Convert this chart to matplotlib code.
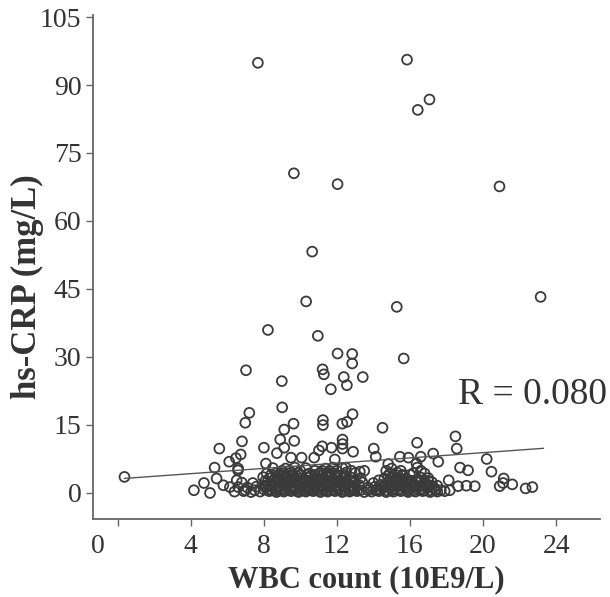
import numpy as np
import matplotlib
matplotlib.use('Agg')
import matplotlib.pyplot as plt
from matplotlib import transforms

plt.rcParams['font.family'] = ['Liberation Serif', 'DejaVu Serif']

# ---- data ----
# sparse / elevated points
sparse_x = [7.68, 15.84, 17.07, 16.43, 9.65, 12.04, 20.9, 10.65, 23.15, 10.32,
            15.28, 8.23, 10.96, 15.66, 12.04, 12.84, 12.84, 7.03, 8.99, 11.22,
            11.29, 12.38, 13.42, 12.55, 11.67,
            7.21, 6.99, 9.01, 12.86, 12.56, 12.3, 14.5, 9.63, 9.12, 11.24, 11.24,
            6.81, 8.9, 9.67, 12.31, 12.31, 12.31, 16.39, 18.49, 18.56, 5.57, 8.01,
            9.12, 11.2, 11.71, 11.02, 14.02, 12.89, 8.72, 6.74, 6.48, 17.27, 20.2,
            6.11, 8.12, 10.76, 10.07, 9.49, 11.89, 14.13, 15.45, 15.92, 16.36,
            14.81, 17.55, 16.59, 0.38]
sparse_y = [94.9, 95.6, 86.8, 84.5, 70.5, 68.1, 67.6, 53.2, 43.2, 42.2,
            41.0, 35.9, 34.6, 29.6, 30.7, 30.6, 28.5, 27.0, 24.6, 27.2,
            26.1, 25.5, 25.5, 23.7, 22.8,
            17.6, 15.4, 18.8, 17.3, 15.6, 15.2, 14.3, 15.2, 13.9, 16.0, 14.9,
            11.3, 11.7, 11.4, 11.7, 10.7, 9.7, 11.0, 12.4, 9.7, 9.7, 9.9,
            9.9, 10.2, 9.9, 9.3, 9.7, 9.0, 8.7, 8.4, 7.6, 8.6, 7.4,
            6.8, 6.4, 7.7, 7.7, 7.7, 7.3, 7.9, 7.9, 7.7, 6.4,
            6.3, 6.8, 7.9, 3.45]

# low points at the edges of the main cluster
edge_x = [5.31, 6.59, 5.42, 4.73, 4.18, 5.06, 5.79, 6.15, 6.52, 6.6, 20.46,
          18.74, 19.18, 18.12, 18.63, 19.09, 19.55, 18.18, 17.69, 21.13, 21.1,
          20.91, 21.6, 22.33, 22.7, 13.26, 12.49, 7.97, 8.16]
edge_y = [5.5, 4.9, 3.1, 2.1, 0.5, -0.1, 1.6, 1.2, 2.7, 5.3, 4.6,
          5.5, 4.9, 2.7, 1.4, 1.5, 1.4, 0.5, 0.5, 3.1, 2.1,
          1.4, 1.8, 0.9, 1.2, 4.6, 5.5, 3.4, 4.2]

# dense cluster near the bottom
cluster_x = [6.4, 6.9, 7.3, 7.8, 8.3, 8.7, 9.1, 9.5, 9.9, 10.3, 10.7, 11.1, 11.5,
             11.9, 12.3, 12.7, 13.1, 13.5, 13.9, 14.3, 14.7, 15.1, 15.5, 15.9,
             16.3, 16.7, 17.1, 17.5, 17.9,
             6.6, 7.1, 7.6, 8.1, 8.5, 8.9, 9.3, 9.7, 10.1, 10.5, 10.9, 11.3, 11.7,
             12.1, 12.5, 12.9, 13.7, 14.1, 14.5, 14.9, 15.3, 15.7, 16.1, 16.5,
             16.9, 17.3,
             6.8, 7.4, 8.2, 8.6, 9.0, 9.4, 9.8, 10.2, 10.6, 11.0, 11.4, 11.8, 12.2,
             12.6, 13.0, 13.4, 14.0, 14.8, 15.2, 15.6, 16.0, 16.4, 16.8, 17.2,
             8.4, 8.8, 9.2, 9.6, 10.0, 10.4, 10.8, 11.2, 11.6, 12.0, 12.4, 12.8,
             13.3, 14.6, 15.0, 15.4, 15.8, 16.6, 17.0,
             8.7, 9.1, 9.5, 9.9, 10.5, 11.1, 11.5, 11.9, 12.5, 13.0, 14.9, 15.3,
             16.2, 16.8,
             8.5, 9.2, 9.7, 10.3, 11.4, 11.8, 12.3, 15.0, 16.4,
             8.0, 8.9, 9.7, 10.5, 11.3, 12.1, 12.9, 14.2, 15.0, 15.8, 16.6, 17.4,
             8.3, 9.1, 9.9, 10.7, 11.5, 12.3, 13.2, 14.4, 15.4, 16.2, 17.0,
             8.7, 9.5, 10.3, 11.1, 11.9, 12.7, 14.3, 15.5, 16.3,
             9.0, 9.8, 10.6, 11.4, 12.2, 14.8, 15.6]
cluster_y = [0.2, 0.3, 0.1, 0.2, 0.3, 0.1, 0.2, 0.3, 0.1, 0.2, 0.3, 0.1, 0.2,
             0.3, 0.1, 0.2, 0.3, 0.1, 0.2, 0.3, 0.1, 0.2, 0.3, 0.1,
             0.2, 0.3, 0.1, 0.2, 0.3,
             1.2, 1.1, 1.3, 1.2, 1.1, 1.3, 1.2, 1.1, 1.3, 1.2, 1.1, 1.3, 1.2,
             1.1, 1.3, 1.2, 1.1, 1.3, 1.2, 1.1, 1.3, 1.2, 1.1, 1.3,
             1.2, 1.1,
             2.2, 2.1, 2.3, 2.2, 2.1, 2.3, 2.2, 2.1, 2.3, 2.2, 2.1, 2.3, 2.2,
             2.1, 2.3, 2.2, 2.1, 2.3, 2.2, 2.1, 2.3, 2.2, 2.1, 2.3,
             3.2, 3.1, 3.3, 3.2, 3.1, 3.3, 3.2, 3.1, 3.3, 3.2, 3.1, 3.3,
             3.2, 3.1, 3.3, 3.2, 3.1, 3.3, 3.2,
             4.3, 4.2, 4.4, 4.3, 4.2, 4.4, 4.3, 4.2, 4.4, 4.3, 4.2, 4.4,
             4.3, 4.2,
             5.4, 5.3, 5.5, 5.4, 5.3, 5.5, 5.4, 5.3, 5.5,
             0.7, 0.7, 0.7, 0.7, 0.7, 0.7, 0.7, 0.7, 0.7, 0.7, 0.7, 0.7,
             1.7, 1.7, 1.7, 1.7, 1.7, 1.7, 1.7, 1.7, 1.7, 1.7, 1.7,
             2.7, 2.7, 2.7, 2.7, 2.7, 2.7, 2.7, 2.7, 2.7,
             3.7, 3.7, 3.7, 3.7, 3.7, 3.7, 3.7]

# extra overlapping points that make the band look solid
band_x = [7.0, 7.5, 8.2, 8.45, 8.7, 8.95, 9.2, 9.45, 9.7, 9.95, 10.2, 10.45,
          10.7, 10.95, 11.2, 11.45, 11.7, 11.95, 12.2, 12.45, 12.7, 12.95, 13.3,
          13.7, 14.1, 14.4, 14.7, 15.0, 15.3, 15.6, 15.9, 16.2, 16.5, 16.8, 17.1,
          17.4,
          8.0, 8.4, 8.8, 9.2, 9.6, 10.0, 10.4, 10.8, 11.2, 11.6, 12.0, 12.4, 12.8,
          14.6, 15.0, 15.4, 15.8, 16.2, 16.6, 17.0, 17.5,
          8.1, 8.5, 8.9, 9.3, 9.7, 10.1, 10.5, 10.9, 11.3, 11.7, 12.1, 12.5, 12.9,
          14.9, 15.3, 15.7, 16.1, 16.5, 17.0,
          8.4, 8.8, 9.2, 9.6, 10.0, 10.4, 10.8, 11.2, 11.6, 12.0, 12.4, 15.2,
          15.6, 16.0,
          9.0, 9.4, 10.0, 10.8, 11.2, 11.6, 12.0, 12.8, 13.5, 14.7, 15.5, 16.6]
band_y = [0.5] * 36 + [1.5] * 21 + [2.6] * 19 + [3.9] * 14 + [4.8] * 12

fit_intercept = 3.0
fit_slope = 0.29
r_text = 'R = 0.080'

x_ticks = [0, 4, 8, 12, 16, 20, 24]
y_ticks = [0, 15, 30, 45, 60, 75, 90, 105]

# ---- figure ----
ink = '#333333'
fig = plt.figure(figsize=(6.10, 5.97), dpi=100)
ax = fig.add_axes([92.5 / 610, 1 - 518.5 / 597, 507.5 / 610, 503.5 / 597])

all_x = np.array(sparse_x + edge_x + cluster_x + band_x)
all_y = np.array(sparse_y + edge_y + cluster_y + band_y)

ax.scatter(all_x, all_y, s=50, facecolors='none', edgecolors='#3a3a3a',
           linewidths=1.3, zorder=3)

lx = np.array([all_x.min(), all_x.max() + 0.15])
ax.plot(lx, fit_intercept + fit_slope * lx, color='#555555', lw=1.0, zorder=4)

ax.set_xlim(-1.37, 26.4)
ax.set_ylim(-5.74, 105.46)
ax.set_xticks(x_ticks)
ax.set_xticklabels([str(v) for v in x_ticks])
ax.set_yticks(y_ticks)
ax.set_yticklabels([str(v) for v in y_ticks])

for s in ['top', 'right']:
    ax.spines[s].set_visible(False)
for s in ['left', 'bottom']:
    ax.spines[s].set_color('#666666')
    ax.spines[s].set_linewidth(1.3)

ax.tick_params(axis='both', direction='out', length=5, width=1.0,
               color='#666666', labelsize=20, labelcolor=ink, pad=3)
ax.tick_params(axis='x', pad=6)

# the "0" label of the x axis sits left of its tick in the reference
tick0 = ax.xaxis.get_major_ticks()[0]
tick0.label1.set_transform(tick0.label1.get_transform() +
                           transforms.ScaledTranslation(-19.5 / 100, 0, fig.dpi_scale_trans))

ax.set_xlabel('WBC count (10E9/L)', fontsize=22, fontweight='bold', color=ink)
ax.set_ylabel('hs-CRP (mg/L)', fontsize=25, fontweight='bold', color=ink)
ax.xaxis.set_label_coords(0.539, -0.092)
ax.yaxis.set_label_coords(-0.095, 0.46)

ax.text(1.014, 0.245, r_text, transform=ax.transAxes, ha='right', va='center',
        fontsize=27, color=ink)

fig.savefig('out.png', dpi=100)
